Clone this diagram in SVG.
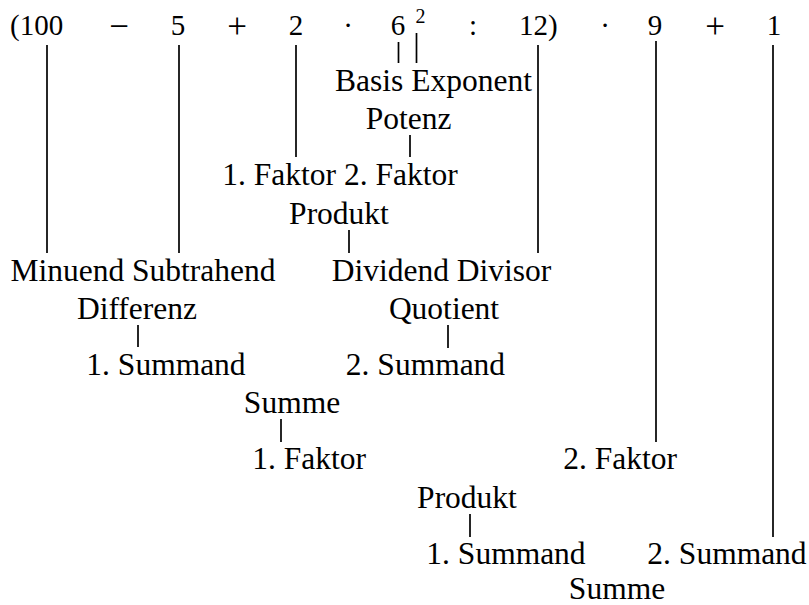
<svg xmlns="http://www.w3.org/2000/svg" width="809" height="605" viewBox="0 0 809 605">
<style>
text{font-family:"Liberation Serif","Times New Roman",serif;fill:#000}
.m{font-size:29px;text-anchor:middle}
.ms{font-size:29px}
.op{font-size:35px;text-anchor:middle}
.sup{font-size:20px;text-anchor:middle}
.l{font-size:31.5px;text-anchor:middle}
.c line{stroke:#000;stroke-width:1.7}
</style>
<rect width="809" height="605" fill="#fff"/>
<g id="expression">
<text class="ms" x="10" y="35">(100</text>
<text class="op" x="119" y="38">−</text>
<text class="m" x="178" y="35">5</text>
<text class="op" x="237" y="38">+</text>
<text class="m" x="296" y="35">2</text>
<text class="m" x="348" y="35">·</text>
<text class="m" x="398" y="35">6</text>
<text class="sup" x="420.5" y="23">2</text>
<text class="m" x="473" y="35">:</text>
<text class="ms" x="519" y="35">12)</text>
<text class="m" x="605" y="35">·</text>
<text class="m" x="655" y="35">9</text>
<text class="op" x="715" y="38">+</text>
<text class="m" x="774" y="35">1</text>
</g>
<g id="n-basis-exponent"><text class="l" x="433.5" y="91">Basis Exponent</text></g>
<g id="n-potenz"><text class="l" x="408.5" y="129">Potenz</text></g>
<g id="n-faktoren1"><text class="l" x="340" y="185">1. Faktor 2. Faktor</text></g>
<g id="n-produkt1"><text class="l" x="339" y="224">Produkt</text></g>
<g id="n-minuend-subtrahend"><text class="l" x="143" y="281">Minuend Subtrahend</text></g>
<g id="n-dividend-divisor"><text class="l" x="441.5" y="281">Dividend Divisor</text></g>
<g id="n-differenz"><text class="l" x="137" y="319">Differenz</text></g>
<g id="n-quotient"><text class="l" x="444" y="319">Quotient</text></g>
<g id="n-summand1a"><text class="l" x="166" y="375">1. Summand</text></g>
<g id="n-summand2a"><text class="l" x="425.5" y="375">2. Summand</text></g>
<g id="n-summe1"><text class="l" x="292" y="413">Summe</text></g>
<g id="n-faktor1b"><text class="l" x="309" y="469">1. Faktor</text></g>
<g id="n-faktor2b"><text class="l" x="620" y="469">2. Faktor</text></g>
<g id="n-produkt2"><text class="l" x="467" y="508">Produkt</text></g>
<g id="n-summand1b"><text class="l" x="506" y="564">1. Summand</text></g>
<g id="n-summand2b"><text class="l" x="727" y="564">2. Summand</text></g>
<g id="n-summe2"><text class="l" x="617" y="599">Summe</text></g>
<g id="connectors" class="c">
<line x1="47" y1="45" x2="47" y2="253"/>
<line x1="179" y1="45" x2="179" y2="253"/>
<line x1="296" y1="45" x2="296" y2="157"/>
<line x1="398.5" y1="42" x2="398.5" y2="63"/>
<line x1="416.5" y1="33" x2="416.5" y2="63"/>
<line x1="410" y1="135" x2="410" y2="157"/>
<line x1="538" y1="45" x2="538" y2="253"/>
<line x1="656" y1="41" x2="656" y2="442"/>
<line x1="773" y1="45" x2="773" y2="537"/>
<line x1="349" y1="230" x2="349" y2="253"/>
<line x1="138" y1="325" x2="138" y2="347"/>
<line x1="448" y1="325" x2="448" y2="348"/>
<line x1="281" y1="419" x2="281" y2="442"/>
<line x1="470" y1="514" x2="470" y2="537"/>
</g>
</svg>
